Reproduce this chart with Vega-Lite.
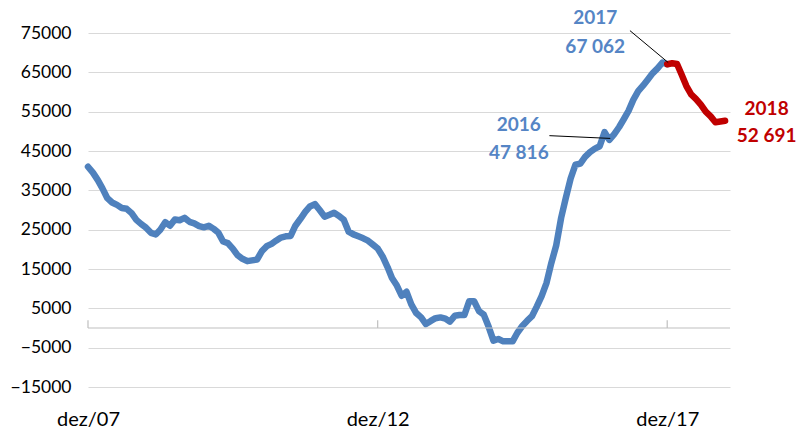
{
  "$schema": "https://vega.github.io/schema/vega-lite/v6.json",
  "width": 642,
  "height": 354,
  "autosize": {"type": "none"},
  "padding": {"left": 88, "top": 33, "right": 67, "bottom": 42},
  "background": "white",
  "config": {"view": {"stroke": null}, "font": "Lato"},
  "datasets": {
    "hist": [
      {"date":"2007-12-01","value":41000},{"date":"2008-01-01","value":39500},{"date":"2008-02-01","value":37600},{"date":"2008-03-01","value":35500},{"date":"2008-04-01","value":33000},{"date":"2008-05-01","value":31900},{"date":"2008-06-01","value":31300},{"date":"2008-07-01","value":30500},{"date":"2008-08-01","value":30300},{"date":"2008-09-01","value":29200},{"date":"2008-10-01","value":27500},{"date":"2008-11-01","value":26400},{"date":"2008-12-01","value":25500},
      {"date":"2009-01-01","value":24200},{"date":"2009-02-01","value":23800},{"date":"2009-03-01","value":25000},{"date":"2009-04-01","value":26900},{"date":"2009-05-01","value":26000},{"date":"2009-06-01","value":27600},{"date":"2009-07-01","value":27400},{"date":"2009-08-01","value":28000},{"date":"2009-09-01","value":27000},{"date":"2009-10-01","value":26600},{"date":"2009-11-01","value":25900},{"date":"2009-12-01","value":25600},
      {"date":"2010-01-01","value":26000},{"date":"2010-02-01","value":25200},{"date":"2010-03-01","value":24300},{"date":"2010-04-01","value":22000},{"date":"2010-05-01","value":21600},{"date":"2010-06-01","value":20200},{"date":"2010-07-01","value":18500},{"date":"2010-08-01","value":17600},{"date":"2010-09-01","value":17000},{"date":"2010-10-01","value":17200},{"date":"2010-11-01","value":17400},{"date":"2010-12-01","value":19500},
      {"date":"2011-01-01","value":20800},{"date":"2011-02-01","value":21400},{"date":"2011-03-01","value":22200},{"date":"2011-04-01","value":23000},{"date":"2011-05-01","value":23300},{"date":"2011-06-01","value":23400},{"date":"2011-07-01","value":26000},{"date":"2011-08-01","value":27700},{"date":"2011-09-01","value":29500},{"date":"2011-10-01","value":30900},{"date":"2011-11-01","value":31500},{"date":"2011-12-01","value":30000},
      {"date":"2012-01-01","value":28300},{"date":"2012-02-01","value":28800},{"date":"2012-03-01","value":29300},{"date":"2012-04-01","value":28500},{"date":"2012-05-01","value":27500},{"date":"2012-06-01","value":24500},{"date":"2012-07-01","value":23800},{"date":"2012-08-01","value":23300},{"date":"2012-09-01","value":22800},{"date":"2012-10-01","value":22200},{"date":"2012-11-01","value":21200},{"date":"2012-12-01","value":20200},
      {"date":"2013-01-01","value":18200},{"date":"2013-02-01","value":15500},{"date":"2013-03-01","value":12700},{"date":"2013-04-01","value":10800},{"date":"2013-05-01","value":8200},{"date":"2013-06-01","value":9200},{"date":"2013-07-01","value":6000},{"date":"2013-08-01","value":3800},{"date":"2013-09-01","value":2700},{"date":"2013-10-01","value":1000},{"date":"2013-11-01","value":1800},{"date":"2013-12-01","value":2500},
      {"date":"2014-01-01","value":2700},{"date":"2014-02-01","value":2400},{"date":"2014-03-01","value":1600},{"date":"2014-04-01","value":3100},{"date":"2014-05-01","value":3300},{"date":"2014-06-01","value":3300},{"date":"2014-07-01","value":6800},{"date":"2014-08-01","value":6800},{"date":"2014-09-01","value":4300},{"date":"2014-10-01","value":3400},{"date":"2014-11-01","value":300},{"date":"2014-12-01","value":-3200},
      {"date":"2015-01-01","value":-2800},{"date":"2015-02-01","value":-3400},{"date":"2015-03-01","value":-3400},{"date":"2015-04-01","value":-3400},{"date":"2015-05-01","value":-1200},{"date":"2015-06-01","value":500},{"date":"2015-07-01","value":1800},{"date":"2015-08-01","value":3000},{"date":"2015-09-01","value":5500},{"date":"2015-10-01","value":8100},{"date":"2015-11-01","value":11500},{"date":"2015-12-01","value":16500},
      {"date":"2016-01-01","value":21000},{"date":"2016-02-01","value":28000},{"date":"2016-03-01","value":33000},{"date":"2016-04-01","value":38000},{"date":"2016-05-01","value":41500},{"date":"2016-06-01","value":41800},{"date":"2016-07-01","value":43500},{"date":"2016-08-01","value":44700},{"date":"2016-09-01","value":45600},{"date":"2016-10-01","value":46200},{"date":"2016-11-01","value":49800},{"date":"2016-12-01","value":47816},
      {"date":"2017-01-01","value":49300},{"date":"2017-02-01","value":51100},{"date":"2017-03-01","value":53000},{"date":"2017-04-01","value":55200},{"date":"2017-05-01","value":58000},{"date":"2017-06-01","value":60200},{"date":"2017-07-01","value":61600},{"date":"2017-08-01","value":63200},{"date":"2017-09-01","value":64800},{"date":"2017-10-01","value":66000},{"date":"2017-11-01","value":67500},{"date":"2017-12-01","value":67062}
    ],
    "recent": [
      {"date":"2017-12-01","value":67062},{"date":"2018-01-01","value":67300},{"date":"2018-02-01","value":67100},{"date":"2018-03-01","value":64500},{"date":"2018-04-01","value":61500},{"date":"2018-05-01","value":59400},{"date":"2018-06-01","value":58200},{"date":"2018-07-01","value":56800},{"date":"2018-08-01","value":55000},{"date":"2018-09-01","value":53800},{"date":"2018-10-01","value":52300},{"date":"2018-11-01","value":52500},{"date":"2018-12-01","value":52691}
    ],
    "ticks": [{"date":"2007-12-01"},{"date":"2012-12-01"},{"date":"2017-12-01"}],
    "connectors": [
      {"date":"2017-04-10","value":75600,"date2":"2017-12-07","value2":67500},
      {"date":"2015-11-19","value":48900,"date2":"2016-12-07","value2":48200}
    ],
    "labels": [
      {"date":"2016-09-03","value":78700,"text":"2017","grp":"blue"},
      {"date":"2016-09-03","value":71500,"text":"67 062","grp":"blue"},
      {"date":"2015-05-10","value":51600,"text":"2016","grp":"blue"},
      {"date":"2015-05-10","value":44500,"text":"47 816","grp":"blue"},
      {"date":"2019-08-20","value":55800,"text":"2018","grp":"red"},
      {"date":"2019-08-20","value":48800,"text":"52 691","grp":"red"}
    ]
  },
  "layer": [
    {
      "data": {"name": "hist"},
      "mark": {"type": "line", "color": "#4f81bd", "strokeWidth": 6.5, "strokeCap": "round", "strokeJoin": "round"},
      "encoding": {
        "x": {
          "field": "date", "type": "temporal",
          "scale": {"domain": ["2007-12-01", "2019-01-01"]},
          "axis": {
            "values": ["2007-12-01", "2012-12-01", "2017-12-01"],
            "labelExpr": "'dez/' + timeFormat(datum.value, '%y')",
            "title": null, "grid": false, "domain": false, "ticks": false,
            "labelFontSize": 20, "labelColor": "#000000", "labelPadding": 22,
            "labelFont": "Lato", "labelFlush": false, "labelOverlap": false
          }
        },
        "y": {
          "field": "value", "type": "quantitative",
          "scale": {"domain": [-15000, 75000], "nice": false, "zero": false},
          "axis": {
            "values": [-15000, -5000, 5000, 15000, 25000, 35000, 45000, 55000, 65000, 75000],
            "tickCount": 20,
            "format": "d", "title": null, "domain": false, "ticks": false,
            "grid": true, "gridColor": "#d9d9d9", "gridWidth": 1.2,
            "labelFontSize": 17.5, "labelColor": "#000000", "labelPadding": 17,
            "labelFont": "Lato", "labelOverlap": false, "labelBound": false
          }
        }
      }
    },
    {
      "data": {"values": [{}]},
      "mark": {"type": "rule", "color": "#bfbfbf", "strokeWidth": 1.2},
      "encoding": {"y": {"datum": 0, "type": "quantitative"}}
    },
    {
      "data": {"name": "ticks"},
      "mark": {"type": "rule", "color": "#bfbfbf", "strokeWidth": 1.2},
      "encoding": {
        "x": {"field": "date", "type": "temporal"},
        "y": {"datum": 0, "type": "quantitative"},
        "y2": {"datum": 2000}
      }
    },
    {
      "data": {"name": "recent"},
      "mark": {"type": "line", "color": "#c00000", "strokeWidth": 6.5, "strokeCap": "round", "strokeJoin": "round"},
      "encoding": {
        "x": {"field": "date", "type": "temporal"},
        "y": {"field": "value", "type": "quantitative"}
      }
    },
    {
      "data": {"name": "connectors"},
      "mark": {"type": "rule", "color": "#000000", "strokeWidth": 1},
      "encoding": {
        "x": {"field": "date", "type": "temporal"},
        "x2": {"field": "date2"},
        "y": {"field": "value", "type": "quantitative"},
        "y2": {"field": "value2"}
      }
    },
    {
      "data": {"name": "labels"},
      "mark": {"type": "text", "font": "Lato", "fontWeight": "bold", "fontSize": 19, "align": "center", "baseline": "middle", "clip": false},
      "encoding": {
        "x": {"field": "date", "type": "temporal"},
        "y": {"field": "value", "type": "quantitative"},
        "text": {"field": "text"},
        "color": {"field": "grp", "type": "nominal", "scale": {"domain": ["blue", "red"], "range": ["#5585c5", "#c00000"]}, "legend": null}
      }
    }
  ]
}
